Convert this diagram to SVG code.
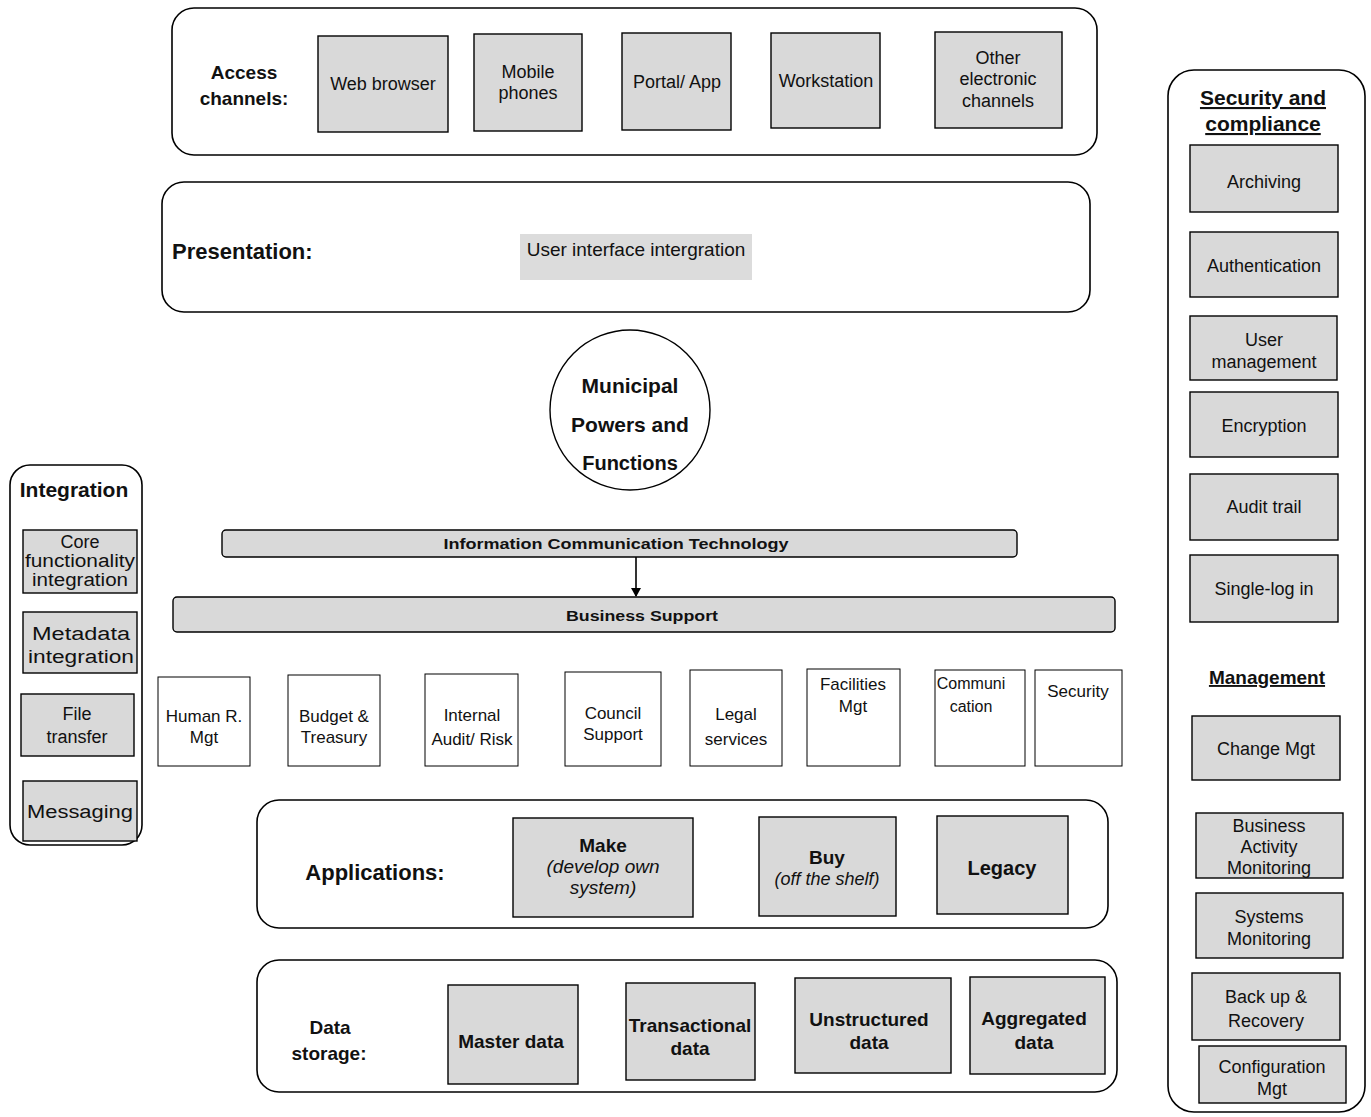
<svg xmlns="http://www.w3.org/2000/svg" width="1371" height="1117" viewBox="0 0 1371 1117">
<defs>
<style>
.frame{fill:#fff;stroke:#000;stroke-width:1.6}
.box{fill:#d9d9d9;stroke:#000;stroke-width:1.4}
.wbox{fill:#fff;stroke:#000;stroke-width:1}
.shade{fill:#dcdcdc;stroke:none}
text{font-family:"Liberation Sans",Arial,sans-serif;fill:#111;text-anchor:middle}
.lbl{font-weight:bold;font-size:19px}
.big{font-size:22px}
.t{font-size:18px}
.s{font-size:17px}
.b{font-weight:bold;font-size:19px}
.bar{font-weight:bold;font-size:14px}
.u{text-decoration:underline}
.i{font-style:italic}
</style>
<marker id="arr" markerWidth="10" markerHeight="10" refX="8" refY="5" orient="auto" markerUnits="userSpaceOnUse">
<path d="M0,0 L9,5 L0,10 Z" fill="#000"/>
</marker>
</defs>
<rect width="1371" height="1117" fill="#fff"/>

<g id="access-channels">
<rect class="frame" x="172" y="8" width="925" height="147" rx="22"/>
<text class="lbl" x="244" y="79">Access</text>
<text class="lbl" x="244" y="105">channels:</text>
<g id="web-browser"><rect class="box" x="318" y="36" width="130" height="96"/><text class="t" x="383" y="90">Web browser</text></g>
<g id="mobile-phones"><rect class="box" x="474" y="34" width="108" height="97"/><text class="t" x="528" y="78">Mobile</text><text class="t" x="528" y="99">phones</text></g>
<g id="portal-app"><rect class="box" x="622" y="33" width="109" height="97"/><text class="t" x="677" y="88">Portal/ App</text></g>
<g id="workstation"><rect class="box" x="771" y="33" width="109" height="95"/><text class="t" x="826" y="87">Workstation</text></g>
<g id="other-channels"><rect class="box" x="935" y="32" width="127" height="96"/><text class="t" x="998" y="64">Other</text><text class="t" x="998" y="85">electronic</text><text class="t" x="998" y="107">channels</text></g>
</g>

<g id="presentation">
<rect class="frame" x="162" y="182" width="928" height="130" rx="22"/>
<text class="lbl big" x="172" y="259" style="text-anchor:start">Presentation:</text>
<rect class="shade" x="520" y="234" width="232" height="46"/>
<text class="t" x="636" y="256" style="font-size:19px">User interface intergration</text>
</g>

<g id="municipal-powers">
<circle cx="630" cy="410" r="80" fill="#fff" stroke="#000" stroke-width="1.4"/>
<text class="lbl" x="630" y="393" style="font-size:21px">Municipal</text>
<text class="lbl" x="630" y="432" style="font-size:21px">Powers and</text>
<text class="lbl" x="630" y="470" style="font-size:20px">Functions</text>
</g>

<g id="ict">
<rect class="box" x="222" y="530" width="795" height="27" rx="4"/>
<text class="bar" x="616" y="549" textLength="345" lengthAdjust="spacingAndGlyphs">Information Communication Technology</text>
</g>

<g id="business-support">
<rect class="box" x="173" y="597" width="942" height="35" rx="4"/>
<text class="bar" x="642" y="621" textLength="152" lengthAdjust="spacingAndGlyphs">Business Support</text>
</g>

<g id="connectors">
<line x1="636" y1="557" x2="636" y2="596" stroke="#000" stroke-width="1.6" marker-end="url(#arr)"/>
</g>

<g id="human-r-mgt"><rect class="wbox" x="158" y="677" width="92" height="89"/><text class="s" x="204" y="722">Human R.</text><text class="s" x="204" y="743">Mgt</text></g>
<g id="budget-treasury"><rect class="wbox" x="288" y="675" width="92" height="91"/><text class="s" x="334" y="722">Budget &amp;</text><text class="s" x="334" y="743">Treasury</text></g>
<g id="internal-audit"><rect class="wbox" x="425" y="674" width="93" height="92"/><text class="s" x="472" y="721">Internal</text><text class="s" x="472" y="745">Audit/ Risk</text></g>
<g id="council-support"><rect class="wbox" x="565" y="672" width="96" height="94"/><text class="s" x="613" y="719">Council</text><text class="s" x="613" y="740">Support</text></g>
<g id="legal-services"><rect class="wbox" x="690" y="670" width="92" height="96"/><text class="s" x="736" y="720">Legal</text><text class="s" x="736" y="745">services</text></g>
<g id="facilities-mgt"><rect class="wbox" x="807" y="669" width="93" height="97"/><text class="s" x="853" y="690">Facilities</text><text class="s" x="853" y="712">Mgt</text></g>
<g id="communication"><rect class="wbox" x="935" y="670" width="90" height="96"/><text class="s" x="971" y="689" style="font-size:16px">Communi</text><text class="s" x="971" y="712" style="font-size:16px">cation</text></g>
<g id="security"><rect class="wbox" x="1035" y="670" width="87" height="96"/><text class="s" x="1078" y="697">Security</text></g>

<g id="applications">
<rect class="frame" x="257" y="800" width="851" height="128" rx="22"/>
<text class="lbl big" x="375" y="880">Applications:</text>
<g id="make"><rect class="box" x="513" y="818" width="180" height="99"/><text class="b" x="603" y="852">Make</text><text class="t i" x="603" y="873" style="font-size:19px">(develop own</text><text class="t i" x="603" y="894" style="font-size:19px">system)</text></g>
<g id="buy"><rect class="box" x="759" y="817" width="137" height="99"/><text class="b" x="827" y="864">Buy</text><text class="t i" x="827" y="885">(off the shelf)</text></g>
<g id="legacy"><rect class="box" x="937" y="816" width="131" height="98"/><text class="b" x="1002" y="875" style="font-size:20px">Legacy</text></g>
</g>

<g id="data-storage">
<rect class="frame" x="257" y="960" width="860" height="132" rx="22"/>
<text class="lbl" x="330" y="1034">Data</text>
<text class="lbl" x="329" y="1060">storage:</text>
<g id="master-data"><rect class="box" x="448" y="985" width="130" height="99"/><text class="b" x="511" y="1048">Master data</text></g>
<g id="transactional-data"><rect class="box" x="626" y="983" width="129" height="97"/><text class="b" x="690" y="1032">Transactional</text><text class="b" x="690" y="1055">data</text></g>
<g id="unstructured-data"><rect class="box" x="795" y="978" width="156" height="95"/><text class="b" x="869" y="1026">Unstructured</text><text class="b" x="869" y="1049">data</text></g>
<g id="aggregated-data"><rect class="box" x="970" y="977" width="135" height="97"/><text class="b" x="1034" y="1025">Aggregated</text><text class="b" x="1034" y="1049">data</text></g>
</g>

<g id="integration">
<rect class="frame" x="10" y="465" width="132" height="380" rx="20"/>
<text class="lbl" x="74" y="497" style="font-size:21px">Integration</text>
<g id="core-functionality"><rect class="box" x="23" y="530" width="114" height="63"/><text class="t" x="80" y="548">Core</text><text class="t" x="80" y="567" textLength="110" lengthAdjust="spacingAndGlyphs">functionality</text><text class="t" x="80" y="586" textLength="96" lengthAdjust="spacingAndGlyphs">integration</text></g>
<g id="metadata-integration"><rect class="box" x="23" y="612" width="114" height="61"/><text class="t" x="81" y="640" textLength="98" lengthAdjust="spacingAndGlyphs">Metadata</text><text class="t" x="81" y="663" textLength="106" lengthAdjust="spacingAndGlyphs">integration</text></g>
<g id="file-transfer"><rect class="box" x="21" y="694" width="113" height="62"/><text class="t" x="77" y="720">File</text><text class="t" x="77" y="743">transfer</text></g>
<g id="messaging"><rect class="box" x="23" y="781" width="114" height="60"/><text class="t" x="80" y="818" textLength="106" lengthAdjust="spacingAndGlyphs">Messaging</text></g>
</g>

<g id="security-compliance">
<rect class="frame" x="1168" y="70" width="197" height="1042" rx="26"/>
<text class="lbl u" x="1263" y="105" style="font-size:21px">Security and</text>
<text class="lbl u" x="1263" y="131" style="font-size:21px">compliance</text>
<g id="archiving"><rect class="box" x="1190" y="145" width="148" height="67"/><text class="t" x="1264" y="188">Archiving</text></g>
<g id="authentication"><rect class="box" x="1190" y="232" width="148" height="65"/><text class="t" x="1264" y="272">Authentication</text></g>
<g id="user-management"><rect class="box" x="1190" y="316" width="147" height="64"/><text class="t" x="1264" y="346">User</text><text class="t" x="1264" y="368">management</text></g>
<g id="encryption"><rect class="box" x="1190" y="392" width="148" height="65"/><text class="t" x="1264" y="432">Encryption</text></g>
<g id="audit-trail"><rect class="box" x="1190" y="474" width="148" height="66"/><text class="t" x="1264" y="513">Audit trail</text></g>
<g id="single-log-in"><rect class="box" x="1190" y="555" width="148" height="67"/><text class="t" x="1264" y="595">Single-log in</text></g>
<text class="lbl u" x="1267" y="684">Management</text>
<g id="change-mgt"><rect class="box" x="1192" y="716" width="148" height="64"/><text class="t" x="1266" y="755">Change Mgt</text></g>
<g id="bam"><rect class="box" x="1196" y="813" width="147" height="65"/><text class="t" x="1269" y="832">Business</text><text class="t" x="1269" y="853">Activity</text><text class="t" x="1269" y="874">Monitoring</text></g>
<g id="systems-monitoring"><rect class="box" x="1196" y="893" width="147" height="65"/><text class="t" x="1269" y="923">Systems</text><text class="t" x="1269" y="945">Monitoring</text></g>
<g id="backup-recovery"><rect class="box" x="1192" y="973" width="148" height="67"/><text class="t" x="1266" y="1003">Back up &amp;</text><text class="t" x="1266" y="1027">Recovery</text></g>
<g id="configuration-mgt"><rect class="box" x="1199" y="1046" width="147" height="57"/><text class="t" x="1272" y="1073">Configuration</text><text class="t" x="1272" y="1095">Mgt</text></g>
</g>
</svg>
